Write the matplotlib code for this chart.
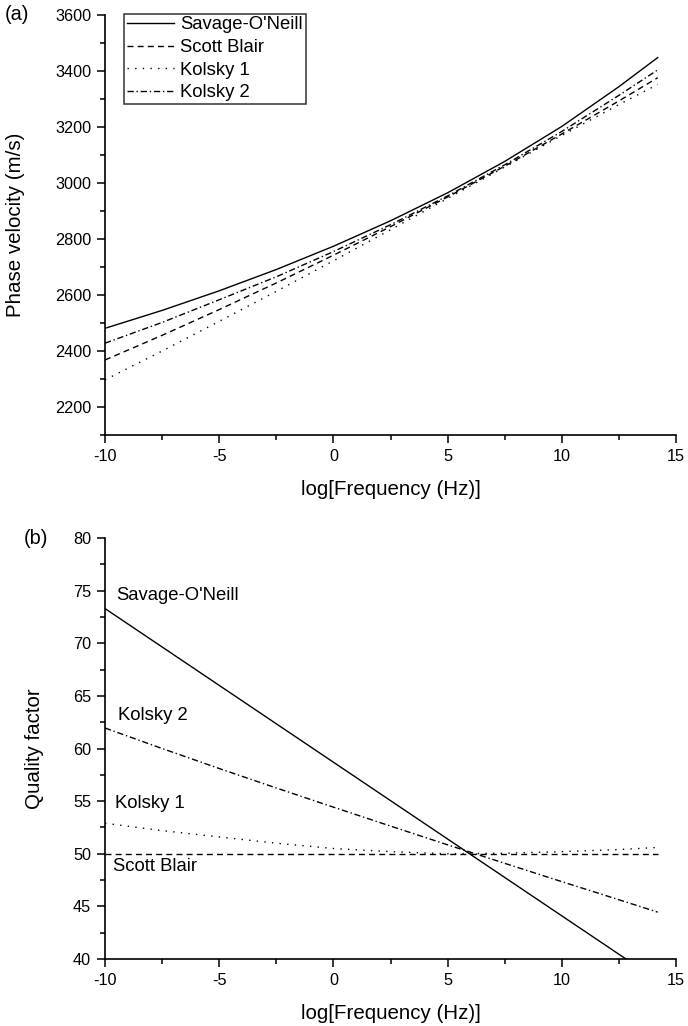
import matplotlib
matplotlib.use("Agg")
import matplotlib.pyplot as plt
from matplotlib.ticker import MultipleLocator

plt.rcParams['font.family'] = ['Liberation Sans', 'DejaVu Sans']
plt.rcParams['axes.unicode_minus'] = False

# log frequency samples
logf = [-10, -7.5, -5, -2.5, 0, 2.5, 5, 7.5, 10, 12.5, 14.2]

# (a) phase velocity, m/s
v_savage = [2481, 2545, 2615, 2691, 2774, 2865, 2965, 3077, 3202, 3344, 3448]
v_scott = [2368, 2456, 2548, 2643, 2742, 2844, 2950, 3060, 3175, 3293, 3376]
v_kolsky1 = [2297, 2400, 2506, 2613, 2722, 2833, 2945, 3057, 3170, 3280, 3352]
v_kolsky2 = [2428, 2502, 2583, 2665, 2755, 2851, 2954, 3065, 3184, 3313, 3404]

# (b) quality factor
q_savage = [73.3, 69.65, 66.0, 62.35, 58.7, 55.05, 51.4, 47.75, 44.1, 40.45, 38.0]
q_scott = [50, 50, 50, 50, 50, 50, 50, 50, 50, 50, 50]
q_kolsky1 = [52.9, 52.2, 51.6, 51.0, 50.5, 50.2, 50.0, 50.05, 50.2, 50.4, 50.6]
q_kolsky2 = [61.95, 60.0, 58.1, 56.25, 54.43, 52.63, 50.85, 49.09, 47.35, 45.63, 44.45]

names = ["Savage-O'Neill", "Scott Blair", "Kolsky 1", "Kolsky 2"]
styles = ['-', (0, (4.3, 3)), (0, (1, 4.5)), (0, (4.5, 2, 1, 2))]

fig = plt.figure(figsize=(6.88, 10.26), dpi=100)
ax1 = fig.add_axes([0.1526, 0.5760, 0.8300, 0.4094])
ax2 = fig.add_axes([0.1526, 0.0653, 0.8300, 0.4103])


def style_axes(ax):
    for s in ['top', 'right']:
        ax.spines[s].set_visible(False)
    for s in ['left', 'bottom']:
        ax.spines[s].set_linewidth(1.2)
    ax.tick_params(which='major', direction='out', length=6, width=1.1,
                   labelsize=11.7, pad=4)
    ax.tick_params(which='minor', direction='out', length=3.5, width=1.1)
    ax.set_xlim(-10, 15)
    ax.xaxis.set_major_locator(MultipleLocator(5))
    ax.xaxis.set_minor_locator(MultipleLocator(2.5))
    ax.set_xlabel('log[Frequency (Hz)]', fontsize=14.8)
    ax.xaxis.set_label_coords(0.5, -0.13)
    ax.xaxis.label.set_verticalalignment('center')


# panel (a)
for y, n, ls in zip([v_savage, v_scott, v_kolsky1, v_kolsky2], names, styles):
    ax1.plot(logf, y, color='black', lw=1.0, linestyle=ls, label=n)
style_axes(ax1)
ax1.set_ylim(2100, 3600)
ax1.yaxis.set_major_locator(MultipleLocator(200))
ax1.yaxis.set_minor_locator(MultipleLocator(100))
ax1.set_ylabel('Phase velocity (m/s)', fontsize=14.8)
ax1.yaxis.set_label_coords(-0.156, 0.5)
ax1.yaxis.label.set_verticalalignment('center')
leg = ax1.legend(loc='upper left', bbox_to_anchor=(0.033, 1.003),
                 borderaxespad=0, fontsize=13.3, frameon=True, fancybox=False,
                 edgecolor='black', handlelength=2.55, handletextpad=0.35,
                 borderpad=0.15, labelspacing=0.3)
leg.get_frame().set_linewidth(1.1)

# panel (b)
for y, ls in zip([q_savage, q_scott, q_kolsky1, q_kolsky2], styles):
    ax2.plot(logf, y, color='black', lw=1.0, linestyle=ls)
style_axes(ax2)
ax2.set_ylim(40, 80)
ax2.yaxis.set_major_locator(MultipleLocator(5))
ax2.yaxis.set_minor_locator(MultipleLocator(2.5))
ax2.set_ylabel('Quality factor', fontsize=14.8)
ax2.yaxis.set_label_coords(-0.1226, 0.5)
ax2.yaxis.label.set_verticalalignment('center')

ax2.text(-9.52, 74.5, "Savage-O'Neill", fontsize=13.3, ha='left', va='center')
ax2.text(-9.43, 63.1, 'Kolsky 2', fontsize=13.3, ha='left', va='center')
ax2.text(-9.56, 54.75, 'Kolsky 1', fontsize=13.3, ha='left', va='center')
ax2.text(-9.66, 48.8, 'Scott Blair', fontsize=13.3, ha='left', va='center')

fig.text(0.0247, 0.9854, '(a)', fontsize=14.3, ha='center', va='center')
fig.text(0.0523, 0.4756, '(b)', fontsize=14.3, ha='center', va='center')

fig.savefig('out.png', dpi=100)
